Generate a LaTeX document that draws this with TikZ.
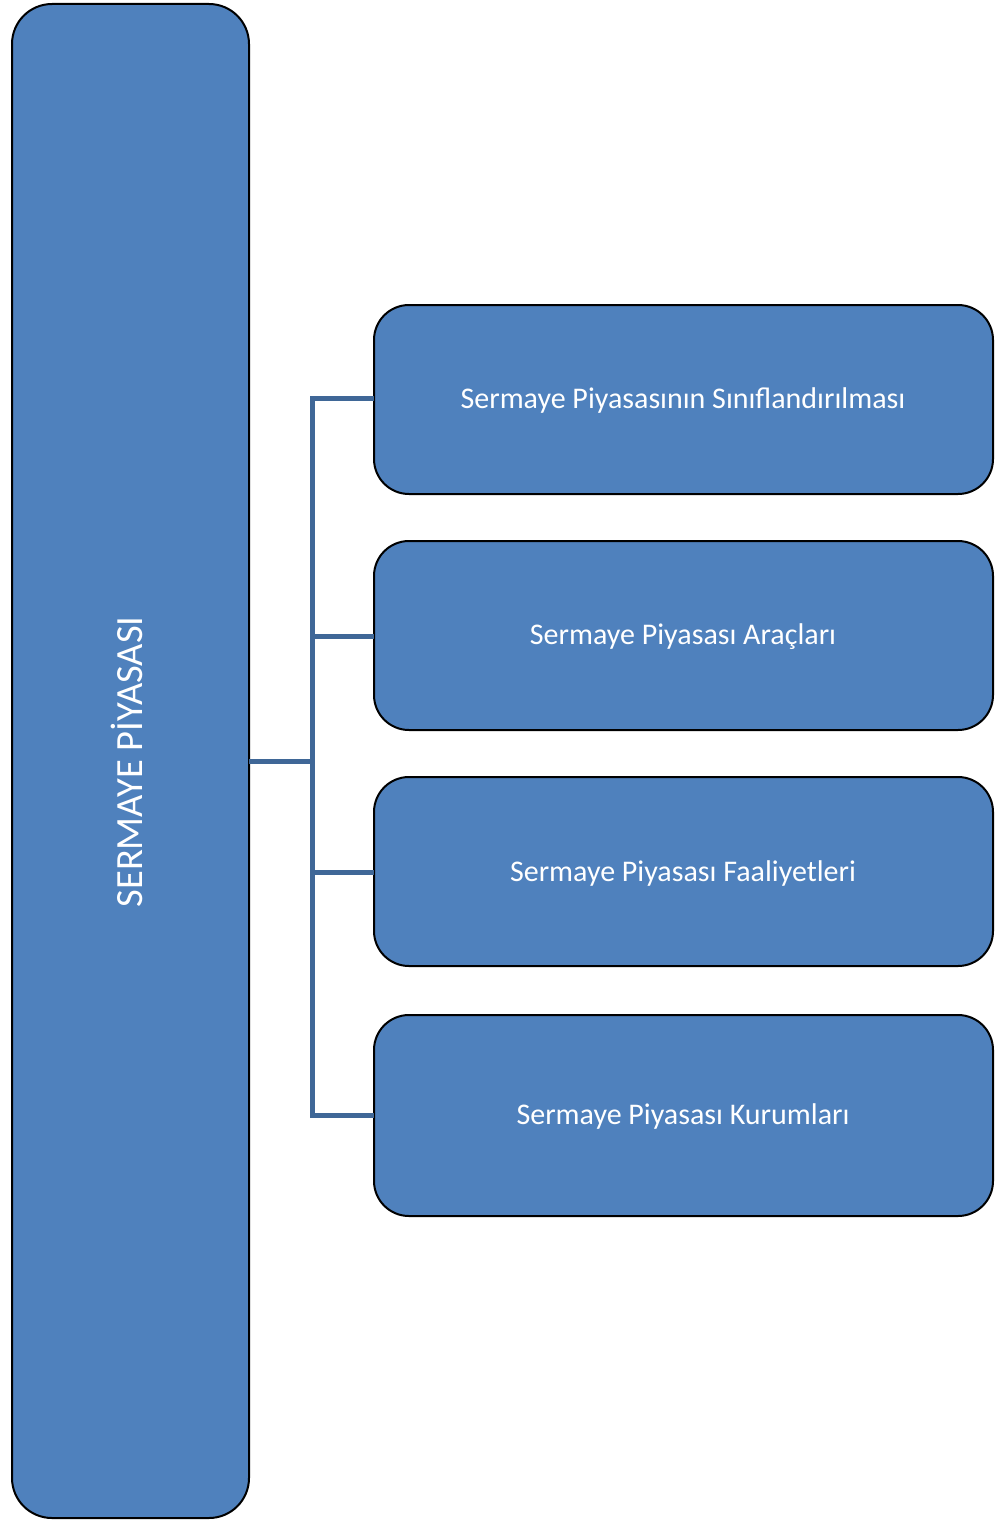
\documentclass[tikz,border=0pt]{standalone}
\usepackage{fontspec}
\setmainfont{Carlito}
\begin{document}
\begin{tikzpicture}[x=1pt,y=-1pt,
  box/.style={draw=black,line width=2pt,fill=boxblue,rounded corners=#1},
  lab/.style={text=white,font=\fontsize{30}{34}\selectfont},
  conn/.style={draw=connblue,line width=5pt}]
\definecolor{boxblue}{HTML}{4F81BD}
\definecolor{connblue}{HTML}{3F6797}
\useasboundingbox (0,0) rectangle (1000,1520);
\draw[box=40pt] (12,4) rectangle (249,1518);
\coordinate (root) at (249,761);
\node[lab,rotate=90,font=\fontsize{38.5}{42}\selectfont] (rootlab) at (127,762) {SERMAYE PİYASASI};
\draw[box=35pt] (374,305) rectangle (993,494);
\draw[box=35pt] (374,541) rectangle (993,730);
\draw[box=35pt] (374,777) rectangle (993,966);
\draw[box=35pt] (374,1015) rectangle (993,1216);
\node[lab] (a) at (683,400) {Sermaye Piyasasının Sınıflandırılması};
\node[lab] (b) at (683,637) {Sermaye Piyasası Araçları};
\node[lab] (c) at (683,873) {Sermaye Piyasası Faaliyetleri};
\node[lab] (d) at (683,1116) {Sermaye Piyasası Kurumları};
\coordinate (a0) at (374,398);
\coordinate (b0) at (374,636);
\coordinate (c0) at (374,872);
\coordinate (d0) at (374,1115);
\coordinate (j) at (312,761);
\draw[conn] (root) -- (j);
\draw[conn] (a0) -- (312,398) -- (312,1115) -- (d0);
\draw[conn] (312,636) -- (b0);
\draw[conn] (312,872) -- (c0);
\end{tikzpicture}
\end{document}
